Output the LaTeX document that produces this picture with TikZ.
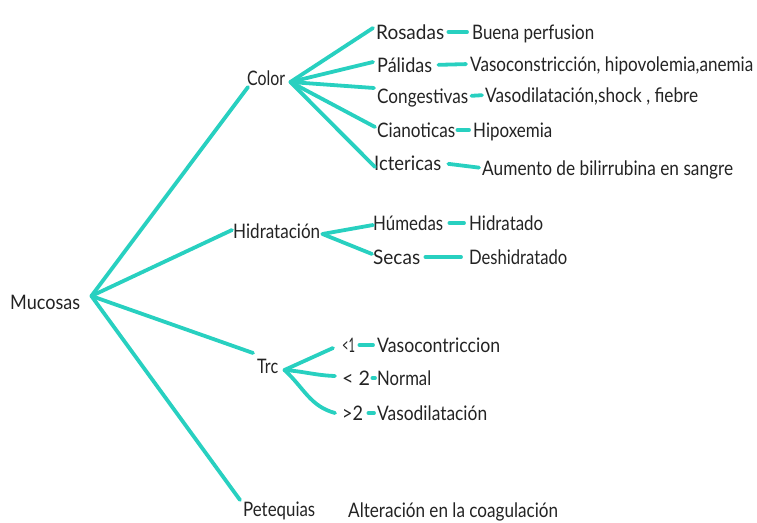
\documentclass[tikz,border=0pt]{standalone}
\usepackage{fontspec}
\usepackage{graphicx}
\setmainfont{Lato}[FakeStretch=0.8]
\usetikzlibrary{calc}

\definecolor{branch}{RGB}{40,208,192}
\definecolor{ink}{RGB}{35,35,35}

% set a label to a fixed width without changing its height
\newcommand\fitw[2]{\resizebox{#1pt}{\height}{#2}}

\begin{document}
\begin{tikzpicture}[x=1pt,y=-1pt,
  lbl/.style={anchor=base west, inner sep=0pt, text=ink,
    font=\fontsize{20}{24}\selectfont, text height=16pt, text depth=2pt},
  link/.style={draw=branch, line width=3.8pt, line cap=round, line join=round}]
\useasboundingbox (0,0) rectangle (757,522);

% root and first level
\node[lbl] (muc) at (10,309)  {\fitw{70}{Mucosas}};
\node[lbl] (col) at (247,85)  {\fitw{38}{Color}};
\node[lbl] (hid) at (233,238) {\fitw{87}{Hidratación}};
\node[lbl] (trc) at (257,373) {\fitw{21}{Trc}};
\node[lbl] (pet) at (243,516) {\fitw{72}{Petequias}};

% colour of the mucosa
\node[lbl] (ros) at (376,39)  {\fitw{68}{Rosadas}};
\node[lbl] (pal) at (377,72)  {\fitw{55}{Pálidas}};
\node[lbl] (con) at (377,103) {\fitw{91}{Congestivas}};
\node[lbl] (cia) at (377,137) {\fitw{78}{Cianoticas}};
\node[lbl] (ict) at (374,170) {\fitw{67}{Ictericas}};
\node[lbl] (bue) at (472,39)  {\fitw{122}{Buena perfusion}};
\node[lbl] (vac) at (470,71)  {\fitw{283}{Vasoconstricción, hipovolemia,anemia}};
\node[lbl] (vad) at (485,102) {\fitw{213}{Vasodilatación,shock , fiebre}};
\node[lbl] (hip) at (473,137) {\fitw{79}{Hipoxemia}};
\node[lbl] (aum) at (482,175) {\fitw{251}{Aumento de bilirrubina en sangre}};

% hydration
\node[lbl] (hum) at (373,230) {\fitw{70}{Húmedas}};
\node[lbl] (sec) at (373,264) {\fitw{47}{Secas}};
\node[lbl] (hda) at (469,230) {\fitw{74}{Hidratado}};
\node[lbl] (des) at (469,264) {\fitw{98}{Deshidratado}};

% capillary refill time
\node[lbl] (lt1) at (342,352) {\fitw{13}{<1}};
\node[lbl] (lt2) at (342,385) {\fitw{28}{< 2}};
\node[lbl] (gt2) at (342,420) {\fitw{21}{>2}};
\node[lbl] (vco) at (377,352) {\fitw{123}{Vasocontriccion}};
\node[lbl] (nor) at (377,385) {\fitw{54}{Normal}};
\node[lbl] (vdi) at (377,420) {\fitw{110}{Vasodilatación}};

% petechiae
\node[lbl] (alt) at (348,517) {\fitw{210}{Alteración en la coagulación}};

% branching points
\coordinate (mh) at ($(muc.east)+(11,-6)$);
\coordinate (ch) at ($(col.east)+(5,4)$);
\coordinate (hh) at ($(hid.east)+(2,3)$);
\coordinate (th) at ($(trc.east)+(6,4)$);

% main branches
\draw[link] (mh) -- ($(col.west)+(1,9)$);
\draw[link] (mh) -- ($(hid.west)+(-1,-1)$);
\draw[link] (mh) -- ($(trc.west)+(-4,-13)$);
\draw[link] (mh) -- ($(pet.west)+(-3,-9)$);

% colour branches
\draw[link] (ch) -- ($(ros.west)+(-3,-4)$);
\draw[link] (ch) -- ($(pal.west)+(-4,-3)$);
\draw[link] (ch) -- ($(con.west)+(-3,-8)$);
\draw[link] (ch) -- ($(cia.west)+(-2,-3)$);
\draw[link] (ch) -- ($(ict.west)+(1,4)$);

% hydration branches
\draw[link] (hh) -- ($(hum.west)+(0,2)$);
\draw[link] (hh) -- ($(sec.west)+(-1,-3)$);

% refill time branches
\draw[link] (th) -- ($(lt1.west)+(-9,3)$);
\draw[link] (th) to[out=-4,in=178] ($(lt2.west)+(-7,-2)$);
\draw[link] (th) to[out=-42,in=165] ($(gt2.west)+(-7,0)$);

% short dashes to the descriptions
\draw[link, shorten <=4pt, shorten >=5pt] (ros.east) -- (bue.west);
\draw[link, shorten <=6pt, shorten >=4pt] (pal.east) -- (vac.west);
\draw[link, shorten <=3pt, shorten >=3pt] (con.east) -- (vad.west);
\draw[link, shorten <=2pt, shorten >=4pt] (cia.east) -- (hip.west);
\draw[link, shorten <=7pt, shorten >=3pt] (ict.east) -- (aum.west);
\draw[link, shorten <=6pt, shorten >=5pt] (hum.east) -- (hda.west);
\draw[link, shorten <=5pt, shorten >=8pt] (sec.east) -- (des.west);
\draw[link, shorten <=4pt, shorten >=4pt] (lt1.east) -- (vco.west);
\draw[link, shorten <=2pt, shorten >=2pt] (lt2.east) -- (nor.west);
\draw[link, shorten <=5pt, shorten >=3pt] (gt2.east) -- (vdi.west);
\end{tikzpicture}
\end{document}
